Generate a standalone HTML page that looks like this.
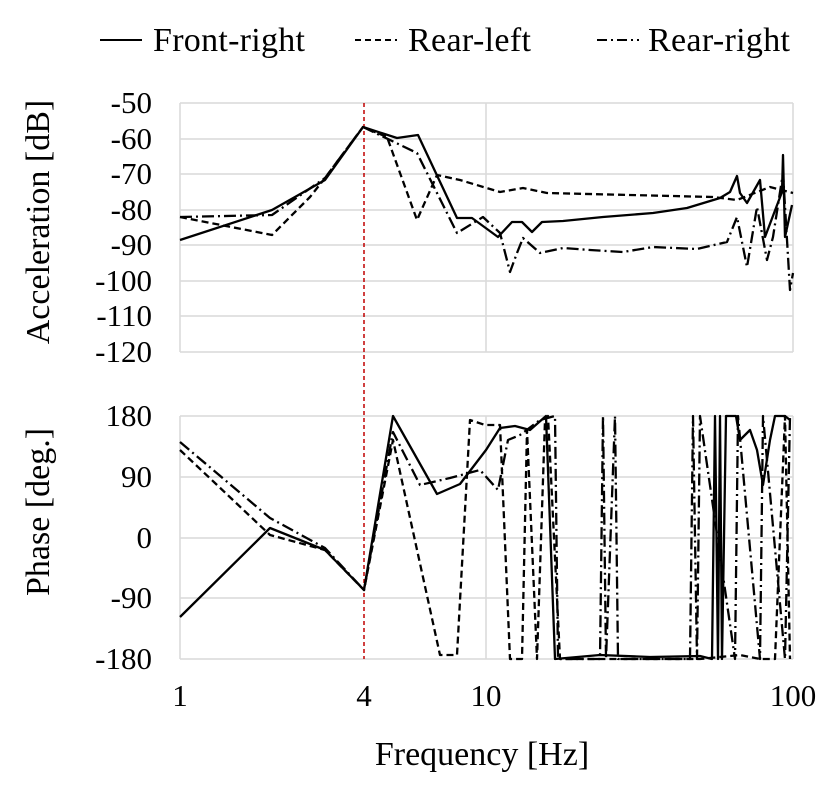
<!DOCTYPE html>
<html><head><meta charset="utf-8"><style>
html,body{margin:0;padding:0;background:#fff;}
svg{display:block;font-family:"Liberation Serif",serif;}
</style></head><body>
<svg width="838" height="790" viewBox="0 0 838 790" xmlns="http://www.w3.org/2000/svg">
<g font-size="34" fill="#000">
<line x1="100" y1="40" x2="142" y2="40" stroke="#000" stroke-width="2"/>
<text x="153" y="51" textLength="152">Front-right</text>
<line x1="355" y1="40" x2="397" y2="40" stroke="#000" stroke-width="2" stroke-dasharray="6,4"/>
<text x="408" y="51" textLength="123">Rear-left</text>
<line x1="597" y1="40" x2="639" y2="40" stroke="#000" stroke-width="2" stroke-dasharray="10,4,2,4"/>
<text x="648" y="51" textLength="142">Rear-right</text>
</g>
<g stroke="#d9d9d9" stroke-width="1.5">
<line x1="180" y1="103" x2="793" y2="103"/><line x1="180" y1="139" x2="793" y2="139"/>
<line x1="180" y1="174" x2="793" y2="174"/><line x1="180" y1="210" x2="793" y2="210"/>
<line x1="180" y1="245" x2="793" y2="245"/><line x1="180" y1="281" x2="793" y2="281"/>
<line x1="180" y1="316" x2="793" y2="316"/><line x1="180" y1="352" x2="793" y2="352"/>
<line x1="180" y1="103" x2="180" y2="352"/><line x1="486" y1="103" x2="486" y2="352"/><line x1="793" y1="103" x2="793" y2="352"/>
<line x1="180" y1="416" x2="793" y2="416"/><line x1="180" y1="477" x2="793" y2="477"/>
<line x1="180" y1="538" x2="793" y2="538"/><line x1="180" y1="598" x2="793" y2="598"/>
<line x1="180" y1="659" x2="793" y2="659"/>
<line x1="180" y1="416" x2="180" y2="659"/><line x1="486" y1="416" x2="486" y2="659"/><line x1="793" y1="416" x2="793" y2="659"/>
</g>
<g font-size="31" text-anchor="end">
<text x="152" y="113">-50</text><text x="152" y="149">-60</text><text x="152" y="184">-70</text>
<text x="152" y="220">-80</text><text x="152" y="255">-90</text><text x="152" y="291">-100</text>
<text x="152" y="326">-110</text><text x="152" y="362">-120</text>
<text x="152" y="426">180</text><text x="152" y="487">90</text><text x="152" y="548">0</text>
<text x="152" y="608">-90</text><text x="152" y="669">-180</text>
</g>
<g font-size="31" text-anchor="middle">
<text x="180" y="706">1</text><text x="364" y="706">4</text><text x="486" y="706">10</text><text x="793" y="706">100</text>
</g>
<g font-size="34" text-anchor="middle">
<text x="482" y="765">Frequency [Hz]</text>
<text transform="translate(49,222) rotate(-90)">Acceleration [dB]</text>
<text transform="translate(49,512) rotate(-90)">Phase [deg.]</text>
</g>
<line x1="364" y1="103" x2="364" y2="659" stroke="#c00000" stroke-width="1.5" stroke-dasharray="4,3"/>
<g fill="none" stroke="#000" stroke-width="2.3" stroke-linejoin="round">
<polyline points="180,240 272,210 325,180 363,127 397,138 418,135 457,218 472,218 498,237 512,222 522,222 532,232 542,222 563,221 603,217 653,213 687,208 720,198 730,192 737,176 740,193 747,203 760,180 765,237 782,192 783,155 785,237 792,205"/>
<polyline stroke-dasharray="7,4" points="180,217 272,235 310,197 325,178 363,127 387,137 417,220 437,175 460,180 500,192 523,188 547,193 713,197 737,200 770,187 793,193"/>
<polyline stroke-dasharray="12,4,2,4" points="180,217 272,215 325,178 363,127 417,153 457,233 483,217 500,233 510,272 517,253 523,238 540,253 563,248 590,250 623,252 653,247 697,249 727,242 737,217 747,267 757,207 767,260 773,237 783,173 790,290 793,273"/>
<polyline points="180,617 270,528 325,550 364,590 393,416 437,494 460,484 486,450 500,428 515,426 530,430 546,416 555,659 600,655 650,657 700,656 712,659 715,416 718,659 720,416 722,659 726,416 736,416 740,440 750,430 757,450 763,485 770,440 775,416 785,416 790,420"/>
<polyline stroke-dasharray="7,4" points="180,450 270,535 325,550 364,590 393,440 440,655 457,655 470,420 485,425 500,425 510,659 522,659 527,430 537,659 545,420 548,416 560,659 700,659 740,655 760,659 775,659 785,416 790,659"/>
<polyline stroke-dasharray="12,4,2,4" points="180,442 270,518 325,548 364,590 393,432 420,485 450,478 480,470 498,490 508,440 520,435 540,420 555,416 558,659 600,659 603,416 606,659 615,416 618,659 690,659 693,416 697,659 700,416 735,659 738,416 760,659 763,416 785,659 790,416"/>
</g>
</svg>
</body></html>
